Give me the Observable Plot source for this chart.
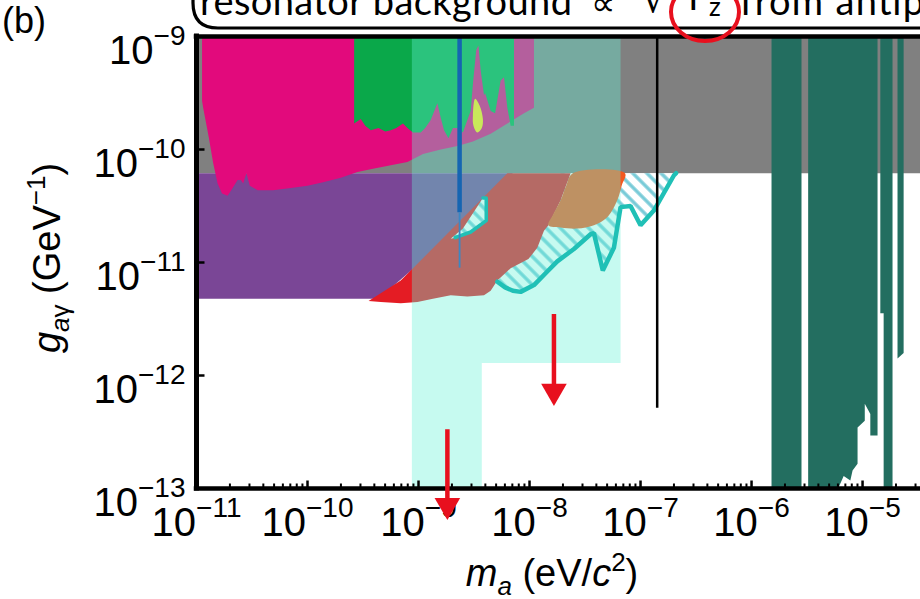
<!DOCTYPE html>
<html><head><meta charset="utf-8">
<script src="https://cdn.jsdelivr.net/npm/d3@7"></script>
<script src="https://cdn.jsdelivr.net/npm/@observablehq/plot@0.6"></script>
<style>body{margin:0;background:#fff;} svg{display:block;}</style>
</head><body>
<script>
// All values are log10 exponents: [log10 m_a (eV/c^2), log10 g_aγ (GeV^-1)]
const majorX = [-11, -10, -9, -8, -7, -6, -5];
const majorY = [-13, -12, -11, -10, -9];
const xDomainExp = [-11, -4.478];
const yDomainExp = [-13, -9];

const greyBand = [[-11,-10.21],[-4.40,-10.21],[-4.40,-9],[-11,-9]];
const purpleRegion = [[-11,-10.21],[-8.15,-10.21],[-9.02,-11.03],[-9.36,-11.32],[-11,-11.32]];
const magentaRegion = [[-10.95,-9],[-10.95,-9.57],[-10.94,-9.63],[-10.89,-9.89],[-10.85,-10.12],[-10.81,-10.30],[-10.77,-10.39],[-10.72,-10.41],[-10.68,-10.35],[-10.63,-10.27],[-10.60,-10.27],[-10.58,-10.30],[-10.55,-10.21],[-10.52,-10.32],[-10.45,-10.36],[-10.31,-10.36],[-10.15,-10.34],[-10.0,-10.32],[-9.86,-10.29],[-9.70,-10.25],[-9.55,-10.20],[-9.41,-10.17],[-9.25,-10.14],[-9.10,-10.11],[-8.96,-10.04],[-8.80,-10.0],[-8.65,-9.97],[-8.51,-9.93],[-8.35,-9.86],[-8.20,-9.77],[-8.05,-9.68],[-7.96,-9.63],[-7.96,-9]];
const greenRegion = [[-9.58,-9],[-9.58,-9.77],[-9.52,-9.73],[-9.48,-9.79],[-9.43,-9.83],[-9.36,-9.81],[-9.30,-9.84],[-9.25,-9.83],[-9.20,-9.81],[-9.14,-9.77],[-9.10,-9.81],[-9.05,-9.85],[-8.98,-9.85],[-8.94,-9.81],[-8.89,-9.74],[-8.85,-9.64],[-8.83,-9.59],[-8.80,-9.72],[-8.77,-9.83],[-8.73,-9.90],[-8.69,-9.81],[-8.65,-9.81],[-8.60,-9.85],[-8.56,-9.74],[-8.53,-9.66],[-8.51,-9.42],[-8.48,-9.12],[-8.46,-9.08],[-8.44,-9.30],[-8.41,-9.52],[-8.40,-9.50],[-8.35,-9.66],[-8.31,-9.68],[-8.26,-9.39],[-8.23,-9.36],[-8.20,-9.63],[-8.17,-9.79],[-8.14,-9.79],[-8.14,-9]];
const hatchLower = [[-8.29,-11.17],[-8.22,-11.22],[-8.15,-11.25],[-8.08,-11.26],[-7.96,-11.20],[-7.84,-11.08],[-7.75,-10.99],[-7.60,-10.88],[-7.45,-10.75],[-7.42,-10.74],[-7.34,-11.07],[-7.24,-10.87],[-7.18,-10.51],[-7.09,-10.50],[-7.00,-10.67],[-6.88,-10.54],[-6.70,-10.23],[-6.68,-10.21]];
const hatchUpper = [[-7.72,-10.21],[-8.00,-10.80]];
const redRegion = [[-9.45,-11.34],[-9.34,-11.35],[-9.16,-11.36],[-9.01,-11.35],[-8.87,-11.32],[-8.71,-11.29],[-8.56,-11.30],[-8.41,-11.29],[-8.35,-11.25],[-8.29,-11.16],[-8.17,-11.05],[-8.01,-10.97],[-7.93,-10.87],[-7.87,-10.72],[-7.83,-10.67],[-7.72,-10.45],[-7.63,-10.21],[-8.20,-10.21],[-9.16,-11.16]];
const orangeRegion = [[-7.83,-10.67],[-7.79,-10.58],[-7.72,-10.45],[-7.67,-10.32],[-7.61,-10.21],[-7.14,-10.21],[-7.17,-10.32],[-7.21,-10.45],[-7.30,-10.60],[-7.42,-10.67],[-7.57,-10.70],[-7.72,-10.69]];
const hatchPocket = [[-8.71,-10.79],[-8.60,-10.70],[-8.42,-10.43],[-8.39,-10.43],[-8.39,-10.63],[-8.53,-10.73],[-8.67,-10.78]];
const cyanRegion = [[-9.06,-9],[-7.18,-9],[-7.18,-11.89],[-8.43,-11.89],[-8.43,-13],[-9.06,-13]];
const yellowBlob = [[-8.49,-9.55],[-8.51,-9.70],[-8.505,-9.79],[-8.47,-9.85],[-8.43,-9.81],[-8.42,-9.73],[-8.45,-9.61]];
const blueThick = [{x: -8.63, y1: -9, y2: -10.56}];
const blueThin = [{x: -8.63, y1: -10.56, y2: -11.05}];
const blackLine = [{x: -6.85, y1: -9, y2: -12.29}];
const tealBars = [
  [[-5.82,-13],[-5.82,-9],[-5.55,-9],[-5.55,-13]],
  [[-5.49,-9],[-4.865,-9],[-4.865,-12.53],[-4.93,-12.53],[-4.93,-12.34],[-4.98,-12.25],[-4.98,-12.40],[-5.045,-12.46],[-5.045,-12.78],[-5.09,-12.84],[-5.11,-12.93],[-5.17,-12.89],[-5.22,-13],[-5.49,-13]],
  [[-4.84,-9],[-4.73,-9],[-4.73,-13],[-4.81,-13],[-4.81,-11.45],[-4.84,-11.45]],
  [[-4.685,-9],[-4.63,-9],[-4.63,-11.80],[-4.685,-11.85]]
];
const arrows = [
  {x: -7.78, top: -11.46, shaftEnd: -12.16, tip: -12.27},
  {x: -8.74, top: -12.48, shaftEnd: -13.18, tip: -13.28}
];

const P = v => 10 ** v;
const X = d => P(d[0]), Y = d => P(d[1]);
const poly = (data, fill, extra = {}) => Plot.line(data, {x: X, y: Y, fill, stroke: "none", curve: "linear-closed", ...extra});
const minorX = [];
for (const e of majorX) for (let m = 2; m <= 9; m++) { const v = m * P(e); if (v < P(xDomainExp[1])) minorX.push(v); }
const tickUp = len => ({draw(ctx) { ctx.moveTo(0, 0); ctx.lineTo(0, -len); }});
const tickRight = len => ({draw(ctx) { ctx.moveTo(0, 0); ctx.lineTo(len, 0); }});
const fmt = d => "10^" + Math.round(Math.log10(d));
const RED = "#e8101e";

const svgEl = Plot.plot({
  width: 920, height: 599,
  marginLeft: 196, marginRight: 0, marginTop: 36, marginBottom: 111,
  x: {type: "log", domain: xDomainExp.map(P)},
  y: {type: "log", domain: yDomainExp.map(P)},
  style: {fontFamily: "'Liberation Sans', Arial, sans-serif", fontSize: "40px", background: "white", color: "black", overflow: "visible"},
  marks: [
    poly(greyBand, "#808080"),
    poly(purpleRegion, "#7a4696"),
    poly(magentaRegion, "#e20a7c"),
    poly(greenRegion, "#0aa84a"),
    poly([...hatchLower, ...hatchUpper], "url(#hatch)"),
    poly(redRegion, "#e41c24"),
    poly(orangeRegion, "#f35921", {curve: "catmull-rom-closed"}),
    poly(hatchPocket, "url(#hatch)"),
    poly(cyanRegion, "rgb(101,241,214)", {fillOpacity: 0.37}),
    Plot.line(hatchLower, {x: X, y: Y, stroke: "#20c0b6", strokeWidth: 4.5, strokeLinejoin: "miter"}),
    Plot.line(hatchPocket.slice(2), {x: X, y: Y, stroke: "#20c0b6", strokeWidth: 3.5}),
    poly(yellowBlob, "#c9e85a", {curve: "catmull-rom-closed"}),
    Plot.ruleX(blueThick, {x: d => P(d.x), y1: d => P(d.y1), y2: d => P(d.y2), stroke: "#1565b2", strokeWidth: 4.5}),
    Plot.ruleX(blueThin, {x: d => P(d.x), y1: d => P(d.y1), y2: d => P(d.y2), stroke: "#3a88c4", strokeWidth: 1.8}),
    Plot.ruleX(blackLine, {x: d => P(d.x), y1: d => P(d.y1), y2: d => P(d.y2), stroke: "black", strokeWidth: 2.5}),
    ...tealBars.map(b => poly(b, "#236e60")),
    Plot.ruleY([P(-13), P(-9)], {stroke: "black", strokeWidth: 4.5, strokeLinecap: "square"}),
    Plot.ruleX([P(-11)], {stroke: "black", strokeWidth: 5, strokeLinecap: "square"}),
    Plot.dot(minorX, {x: d => d, y: () => P(-13), symbol: tickUp(5), fill: "none", stroke: "black", strokeWidth: 2}),
    Plot.dot(majorX.map(P), {x: d => d, y: () => P(-13), symbol: tickUp(8), fill: "none", stroke: "black", strokeWidth: 2.5}),
    Plot.dot(majorY.map(P), {x: () => P(-11), y: d => d, symbol: tickRight(8), fill: "none", stroke: "black", strokeWidth: 2.5}),
    Plot.axisX(majorX.map(P), {tickSize: 0, tickPadding: 18.6, tickFormat: fmt, label: null, fontSize: 40}),
    Plot.axisY(majorY.map(P), {tickSize: 0, tickPadding: 11, tickFormat: fmt, label: null, fontSize: 40}),
    Plot.ruleX(arrows, {x: d => P(d.x), y1: d => P(d.top), y2: d => P(d.shaftEnd), stroke: RED, strokeWidth: 4.5}),
    Plot.dot(arrows, {x: d => P(d.x), y: d => P(d.tip), symbol: "triangle", r: 9.5, rotate: 180, dy: -14.8, fill: RED, stroke: "none"})
  ]
});
document.body.appendChild(svgEl);

const svg = d3.select(svgEl);
// hatch pattern
const defs = svg.insert("defs", ":first-child");
const pat = defs.append("pattern").attr("id", "hatch").attr("patternUnits", "userSpaceOnUse")
  .attr("width", 10).attr("height", 10).attr("patternTransform", "rotate(-45)");
pat.append("rect").attr("width", 10).attr("height", 10).attr("fill", "white");
pat.append("line").attr("x1", 5).attr("y1", 0).attr("x2", 5).attr("y2", 10).attr("stroke", "#78cbd8").attr("stroke-width", 3.4);

// superscript tick labels
function sup(node, isY) {
  const e = node.textContent.split("^")[1];
  node.textContent = "";
  const t = d3.select(node);
  if (isY) t.attr("dy", "0.36em");
  t.append("tspan").text("10");
  t.append("tspan").attr("font-size", 28).attr("dy", -19).text("\u2212" + e.replace("-", ""));
}
svg.selectAll('g[aria-label="x-axis tick label"] text').each(function() { sup(this, false); });
svg.selectAll('g[aria-label="y-axis tick label"] text').each(function() { sup(this, true); });

const ann = svg.append("g").attr("fill", "black").attr("text-anchor", "start");
// panel label
ann.append("text").attr("x", 2).attr("y", 33).attr("font-size", 36).text("(b)");
// top rounded box
ann.append("path").attr("d", "M193,-20 L193,3 Q193,28 218,28 L930,28").attr("fill", "none").attr("stroke", "black").attr("stroke-width", 3.2);
const boxText = ann.append("g").attr("font-family", "Lato, 'Open Sans', sans-serif");
boxText.append("text").attr("x", 200).attr("y", 15).attr("font-size", 38).attr("textLength", 372).attr("lengthAdjust", "spacing").text("resonator background");
boxText.append("text").attr("x", 591).attr("y", 15).attr("font-size", 34).attr("font-family", "'DejaVu Sans'").text("\u221D");
boxText.append("text").attr("x", 643).attr("y", 12).attr("font-size", 36).attr("font-family", "'DejaVu Sans'").text("\u221A");
boxText.append("text").attr("x", 688).attr("y", 10).attr("font-size", 36).attr("font-family", "'DejaVu Sans'").text("\u0393");
boxText.append("text").attr("x", 709).attr("y", 16).attr("font-size", 26).text("z");
boxText.append("text").attr("x", 740).attr("y", 15).attr("font-size", 38).attr("textLength", 184).attr("lengthAdjust", "spacing").text("from antip");
ann.append("ellipse").attr("cx", 705).attr("cy", 12).attr("rx", 34).attr("ry", 29).attr("fill", "none").attr("stroke", RED).attr("stroke-width", 4);

// axis titles
const xt = ann.append("text").attr("x", 552).attr("y", 586).attr("text-anchor", "middle").attr("font-size", 38);
xt.append("tspan").attr("font-style", "italic").text("m");
xt.append("tspan").attr("font-style", "italic").attr("font-size", 26).attr("dy", 9).text("a");
xt.append("tspan").attr("dy", -9).text(" (eV/");
xt.append("tspan").attr("font-style", "italic").text("c");
xt.append("tspan").attr("font-size", 26).attr("dy", -15).text("2");
xt.append("tspan").attr("dy", 15).text(")");

const yt = ann.append("text").attr("transform", "translate(60,258) rotate(-90)").attr("text-anchor", "middle").attr("font-size", 38);
yt.append("tspan").attr("font-style", "italic").text("g");
yt.append("tspan").attr("font-style", "italic").attr("font-size", 26).attr("dy", 9).text("a");
yt.append("tspan").attr("font-size", 26).text("\u03B3");
yt.append("tspan").attr("dy", -9).text(" (GeV");
yt.append("tspan").attr("font-size", 26).attr("dy", -15).text("\u22121");
yt.append("tspan").attr("dy", 15).text(")");
</script>
</body></html>
